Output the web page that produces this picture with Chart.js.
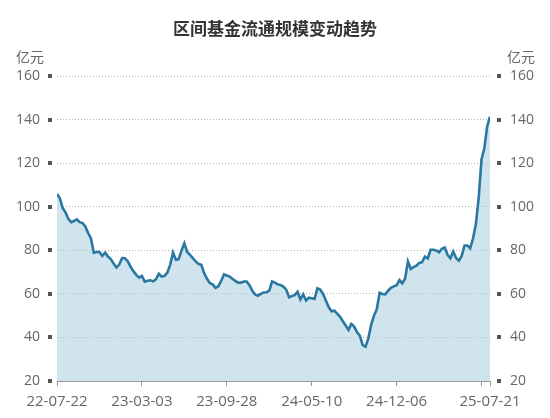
<!DOCTYPE html>
<html>
<head>
<meta charset="utf-8">
<script src="https://cdn.jsdelivr.net/npm/chart.js@4/dist/chart.umd.min.js"></script>
<style>
  body { margin: 0; background: #fff; }
  #wrap { width: 550px; height: 418px; position: relative; }
</style>
</head>
<body>
<div id="wrap"><canvas id="myChart"></canvas></div>
<script>
const title = '区间基金流通规模变动趋势';
const unit = '亿元';

// weekly points, index 0..153
const values = [
  106, 104, 99.5, 97.5, 94.5, 93, 93.5, 94.3, 93, 92.6,
  91, 88, 85.5, 79, 79.3, 79.3, 77.5, 79, 77.2, 76,
  74, 72.2, 73.5, 76.5, 76.4, 75, 72.5, 70.5, 68.8, 67.5,
  68.3, 65.7, 66.1, 66.3, 65.8, 66.8, 69.3, 68, 68.3, 69.8,
  73.5, 79, 75.7, 76, 80, 83.3, 79.3, 78, 76.5, 75,
  73.8, 73.4, 69.5, 67, 65, 64.4, 62.8, 63.5, 66, 69,
  68.5, 68, 67, 66, 65.2, 65.2, 65.7, 65.7, 64, 61.5,
  59.8, 59.2, 60, 60.7, 60.8, 61.5, 65.7, 65.2, 64.4, 64.1,
  63.4, 62, 58.5, 59, 59.5, 61, 57.5, 59.8, 57, 58.3,
  58, 57.7, 62.6, 62, 60, 57, 54, 52, 52.3, 51,
  49.5, 47.5, 45.5, 43.5, 46.2, 45, 42.5, 40.8, 36.5, 35.8,
  39.5, 45.8, 50, 53, 60.5, 60, 59.8, 61.5, 62.8, 63.5,
  64, 66.4, 64.9, 67, 74.9, 71.5, 72.3, 73, 74.3, 74.6,
  77.2, 76.3, 80.3, 80.3, 80, 79.2, 80.8, 81.4, 78, 76.4,
  79.5, 76.5, 75.3, 77.5, 82.3, 82.3, 81, 85.5, 92, 104,
  121.8, 127, 137, 141.5
];

const tickIdx = [0, 30, 60, 90, 120, 150, 153];
const tickLabels = ['22-07-22', '23-03-03', '23-09-28', '24-05-10', '24-12-06', '', '25-07-21'];
const yTicks = [20, 40, 60, 80, 100, 120, 140, 160];

const FONT = "'Open Sans', 'Noto Sans CJK SC', sans-serif";

// small squares beside the y tick labels + unit text
const extras = {
  id: 'extras',
  afterDraw(chart) {
    const ctx = chart.ctx;
    const ys = chart.scales.y;
    const area = chart.chartArea;
    ctx.save();
    ctx.fillStyle = '#555';
    yTicks.forEach(v => {
      const py = Math.round(ys.getPixelForValue(v));
      ctx.fillRect(area.left - 9, py - 2, 4, 4);
      ctx.fillRect(area.right + 7, py - 2, 4, 4);
    });
    ctx.fillStyle = '#666';
    ctx.font = '14px ' + FONT;
    ctx.textBaseline = 'middle';
    ctx.textAlign = 'left';
    ctx.fillText(unit, 16, 58);
    ctx.fillText(unit, 507, 58);
    ctx.restore();
  }
};

let myChart;
const setup = () => {
  const ctxt = document.getElementById('myChart').getContext('2d');
  myChart = new Chart(ctxt, {
    type: 'line',
    data: {
      datasets: [{
        data: values.map((v, i) => ({ x: i, y: v })),
        borderColor: '#2a78a2',
        backgroundColor: 'rgba(176,210,226,0.6)',
        borderWidth: 2.6,
        pointRadius: 0,
        fill: 'start',
        tension: 0
      }]
    },
    options: {
      responsive: true,
      maintainAspectRatio: false,
      devicePixelRatio: 1,
      animation: false,
      layout: { padding: { top: 0, bottom: 0, left: 0, right: 0 } },
      plugins: {
        legend: { display: false },
        tooltip: { enabled: false },
        title: {
          display: true,
          text: title,
          color: '#333',
          font: { size: 17, weight: 'bold', family: "'Noto Sans CJK SC', sans-serif" },
          padding: { top: 18, bottom: 38 }
        }
      },
      scales: {
        x: {
          type: 'linear',
          min: 0,
          max: 153,
          afterBuildTicks: s => { s.ticks = tickIdx.map(v => ({ value: v })); },
          ticks: {
            autoSkip: false,
            maxRotation: 0,
            color: '#666',
            font: { size: 15, family: FONT },
            padding: 7,
            callback: v => tickLabels[tickIdx.indexOf(v)] ?? ''
          },
          grid: { drawOnChartArea: false, drawTicks: true, tickLength: 5, color: '#999' },
          border: { display: true, color: '#999' }
        },
        y: {
          position: 'left',
          min: 20,
          max: 160,
          afterBuildTicks: s => { s.ticks = yTicks.map(v => ({ value: v })); },
          afterFit: s => { s.width = 57; },
          ticks: { color: '#666', font: { size: 14, family: FONT }, padding: 17 },
          grid: { drawTicks: false, color: '#b5b5b5', lineWidth: 1 },
          border: { display: false, dash: [1, 2] }
        },
        y2: {
          position: 'right',
          min: 20,
          max: 160,
          afterBuildTicks: s => { s.ticks = yTicks.map(v => ({ value: v })); },
          afterFit: s => { s.width = 60; },
          ticks: { color: '#666', font: { size: 14, family: FONT }, padding: 20 },
          grid: { drawOnChartArea: false, drawTicks: false },
          border: { display: false }
        }
      }
    },
    plugins: [extras]
  });
};

window.addEventListener('DOMContentLoaded', setup);
</script>
</body>
</html>
